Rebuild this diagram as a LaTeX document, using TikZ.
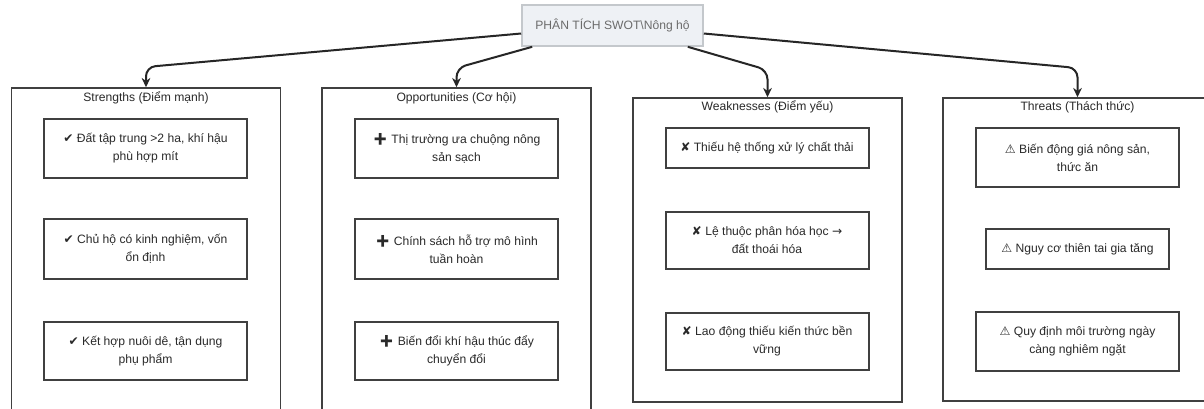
\documentclass[tikz,border=0pt]{standalone}
\usepackage{fontspec}
\setmainfont{Liberation Sans}
\newfontfamily\symfont{DejaVu Sans}
\newfontfamily\emofont{Noto Emoji}
\usetikzlibrary{arrows.meta}
\definecolor{rootfill}{HTML}{EEF1F5}
\definecolor{rootdraw}{HTML}{C4C8CC}
\definecolor{txt}{HTML}{2A2A2A}
\definecolor{roottxt}{HTML}{6B6B6B}
\newcommand{\ck}{{\symfont\char"2714}}
\newcommand{\xk}{{\symfont\char"2718}}
\newcommand{\wk}{{\symfont\char"26A0}}
\newcommand{\pk}{{\emofont\char"2795}}
\newcommand{\rarr}{{\symfont\char"2192}}
\begin{document}
\begin{tikzpicture}[x=0.75pt,y=-0.75pt,
  base/.style={font=\fontsize{9.1}{13.5}\selectfont, text=txt, align=center, inner sep=0pt},
  rootbox/.style={base, draw=rootdraw, fill=rootfill, line width=1.2pt, text=roottxt, minimum width=135.75pt, minimum height=30.75pt},
  groupbox/.style={draw=black!75, line width=1.1pt, minimum width=201.5pt},
  itembox/.style={base, draw=black!75, line width=1.5pt, minimum width=152.25pt},
  grouptitle/.style={base},
  conn/.style={draw=black!85, line width=1.5pt, rounded corners=7pt, -{Stealth[length=7pt,width=6.5pt]}}
]
\clip (0,0) rectangle (1204,408);
\fill[white] (0,0) rectangle (1204,408);

% group boxes
\node[groupbox, minimum height=246pt] (S) at (146,252) {};
\node[groupbox, minimum height=246pt] (O) at (456.5,252) {};
\node[groupbox, minimum height=228pt] (W) at (767.5,250) {};
\node[groupbox, minimum height=227.25pt] (T) at (1077.5,249.5) {};

% titles
\node[grouptitle] (St) at (146,98) {Strengths (Điểm mạnh)};
\node[grouptitle] (Ot) at (456.5,98) {Opportunities (Cơ hội)};
\node[grouptitle] (Wt) at (767.5,107) {Weaknesses (Điểm yếu)};
\node[grouptitle] (Tt) at (1077.5,107) {Threats (Thách thức)};

% strengths
\node[itembox, minimum height=44.25pt] (S1) at (145.5,148.5) {\ck\ Đất tập trung >2 ha, khí hậu\\phù hợp mít};
\node[itembox, minimum height=45pt] (S2) at (145.5,249) {\ck\ Chủ hộ có kinh nghiệm, vốn\\ổn định};
\node[itembox, minimum height=43.5pt] (S3) at (145.5,351) {\ck\ Kết hợp nuôi dê, tận dụng\\phụ phẩm};

% opportunities
\node[itembox, minimum height=44.25pt] (O1) at (456.5,148.5) {\pk\ Thị trường ưa chuộng nông\\sản sạch};
\node[itembox, minimum height=45pt] (O2) at (456.5,249) {\pk\ Chính sách hỗ trợ mô hình\\tuần hoàn};
\node[itembox, minimum height=43.5pt] (O3) at (456.5,351) {\pk\ Biến đổi khí hậu thúc đẩy\\chuyển đổi};

% weaknesses
\node[itembox, minimum height=30pt] (W1) at (767,148) {\xk\ Thiếu hệ thống xử lý chất thải};
\node[itembox, minimum height=42.75pt] (W2) at (767,240.5) {\xk\ Lệ thuộc phân hóa học \rarr\\đất thoái hóa};
\node[itembox, minimum height=42.75pt] (W3) at (767,341.5) {\xk\ Lao động thiếu kiến thức bền\\vững};

% threats
\node[itembox, minimum height=44.25pt] (T1) at (1077.5,157.5) {\wk\ Biến động giá nông sản,\\thức ăn};
\node[itembox, minimum height=30pt, minimum width=137.25pt] (T2) at (1077.5,249) {\wk\ Nguy cơ thiên tai gia tăng};
\node[itembox, minimum height=44.25pt] (T3) at (1077.5,341.5) {\wk\ Quy định môi trường ngày\\càng nghiêm ngặt};

% root
\node[rootbox] (root) at (612.5,25.5) {PHÂN TÍCH SWOT\textbackslash Nông hộ};

% connectors
\draw[conn] ([yshift=-6pt]root.west) -- (146,67) -- (S.north);
\draw[conn] ([xshift=8.25pt]root.south west) -- (456.5,68) -- (O.north);
\draw[conn] ([xshift=-12pt]root.south east) -- (767.5,70) -- (W.north);
\draw[conn] ([yshift=-6pt]root.east) -- (1077.5,68) -- (T.north);
\end{tikzpicture}
\end{document}
